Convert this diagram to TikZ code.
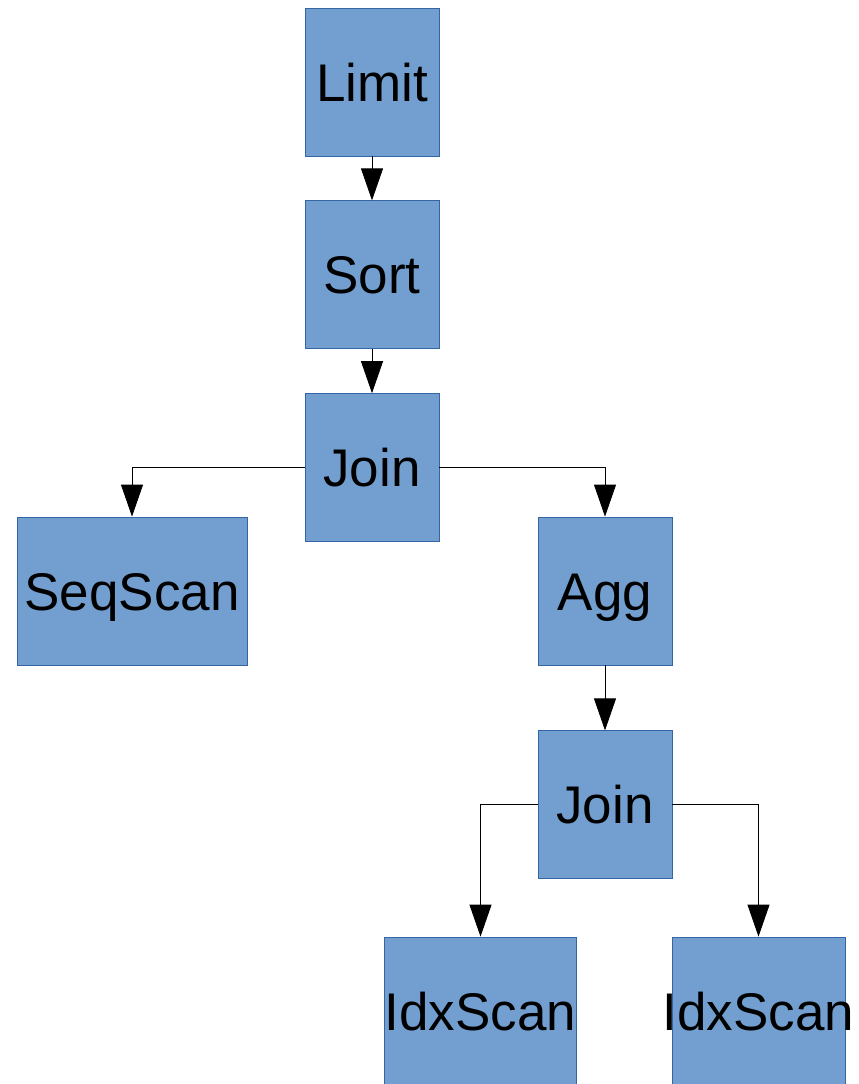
\documentclass[tikz,border=0pt]{standalone}
\usepackage{fontspec}
\setmainfont{Liberation Sans}
\usetikzlibrary{arrows.meta,positioning}

\definecolor{opfill}{HTML}{729FCF}
\definecolor{opdraw}{HTML}{3465A4}

\begin{document}
\begin{tikzpicture}[
  x=1pt, y=1pt,
  font=\fontsize{53}{60}\selectfont,
  op/.style={draw=opdraw, line width=0.8pt, fill=opfill, inner sep=0pt,
    text height=38pt, text depth=0pt,
    minimum width=134pt, minimum height=148pt},
  wideop/.style={op, minimum width=230pt},
  scanop/.style={op, minimum width=191pt},
  narrowscan/.style={op, minimum width=173pt},
  flow/.style={-{Triangle[length=32pt, width=22pt]}, line width=0.8pt, draw=black}
]
\useasboundingbox (0,0) rectangle (859,-1084);

\node[op] (limit) at (372,-82) {Limit};
\node[op, below=44pt of limit] (sort) {Sort};
\node[op, below=44pt of sort] (join) {Join};
\node[wideop] (seqscan) at (132,-591) {SeqScan};
\node[op] (agg) at (605,-591) {Agg};
\node[op, below=65pt of agg] (subjoin) {Join};
\node[scanop] (idxleft) at (480.5,-1011) {IdxScan};
% label runs past the box edges
\node[narrowscan] (idxright) at (758.5,-1011) {\makebox[0pt]{IdxScan}};

\draw[flow] (limit) -- (sort);
\draw[flow] (sort) -- (join);
\draw[flow] (join.west) -| (seqscan.north);
\draw[flow] (join.east) -| (agg.north);
\draw[flow] (agg) -- (subjoin);
\draw[flow] (subjoin.west) -| (idxleft.north);
\draw[flow] (subjoin.east) -| (idxright.north);
\end{tikzpicture}
\end{document}
